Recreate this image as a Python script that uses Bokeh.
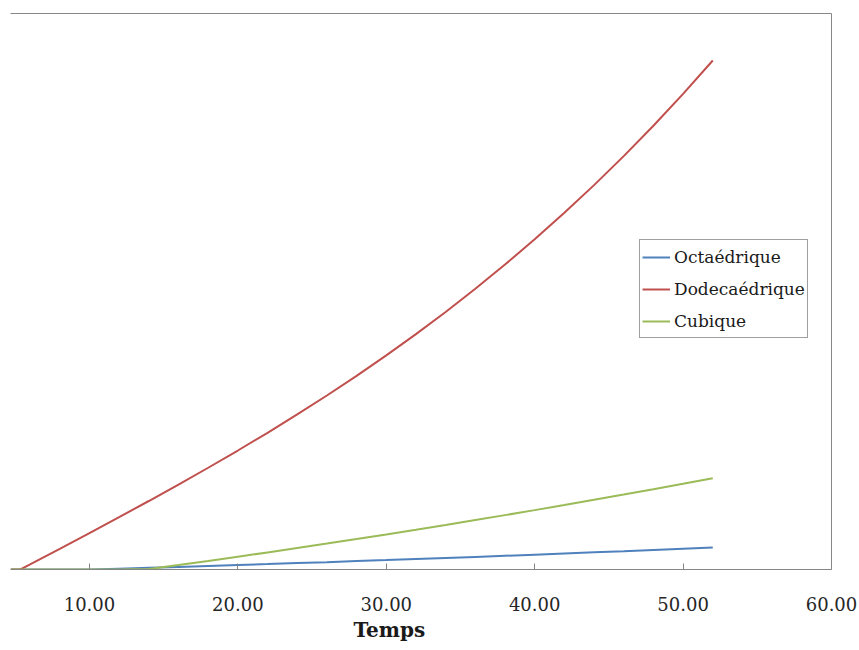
from bokeh.plotting import figure
from bokeh.models import (LinearAxis, FixedTicker, NumeralTickFormatter, Range1d, Title)
from bokeh.embed import file_html
from bokeh.resources import INLINE

# ---- data ----
temps = [4.7, 5.35, 6, 8, 10, 12, 14, 16, 18, 20, 22, 24, 26, 28, 30,
         32, 34, 36, 38, 40, 42, 44, 46, 48, 50, 52]
octaedrique = [0, 0, 0, 0, 0, 0.15, 0.31, 0.47, 0.63, 0.80, 0.97, 1.15, 1.32, 1.51, 1.69,
               1.88, 2.07, 2.27, 2.47, 2.67, 2.88, 3.09, 3.30, 3.52, 3.74, 3.97]
dodecaedrique = [0, 0, 0.91, 3.72, 6.55, 9.42, 12.32, 15.28, 18.30, 21.40, 24.59, 27.89, 31.30, 34.83, 38.51,
                 42.33, 46.32, 50.49, 54.84, 59.39, 64.15, 69.13, 74.35, 79.82, 85.55, 91.54]
cubique = [0, 0, 0, 0, 0, 0, 0.07, 0.80, 1.54, 2.30, 3.07, 3.86, 4.66, 5.48, 6.31,
           7.15, 8.01, 8.89, 9.78, 10.68, 11.60, 12.54, 13.49, 14.45, 15.43, 16.42]
series_names = ["Octaédrique", "Dodecaédrique", "Cubique"]
series_colors = ["#4F81BD", "#C0504D", "#9BBB59"]
x_ticks = [10, 20, 30, 40, 50, 60]
x_title = "Temps"

AXIS_GREY = "#868686"
FONT = "DejaVu Serif"

p = figure(width=859, height=650, output_backend="svg", toolbar_location=None,
           x_range=Range1d(4.68, 60.0), y_range=Range1d(0, 100),
           y_axis_location=None, x_axis_location=None,
           min_border_left=10, min_border_right=28, min_border_top=13, min_border_bottom=81)
p.outline_line_color = None
p.xgrid.visible = False
p.ygrid.visible = False
p.background_fill_color = "white"
p.border_fill_color = "white"

# bottom axis
xa = LinearAxis(ticker=FixedTicker(ticks=x_ticks),
                formatter=NumeralTickFormatter(format="0.00"))
xa.axis_line_color = AXIS_GREY
xa.major_tick_line_color = AXIS_GREY
xa.major_tick_in = 6
xa.major_tick_out = 0
xa.minor_tick_line_color = None
xa.major_label_standoff = 27
xa.major_label_text_font = FONT
xa.major_label_text_font_size = "18px"
xa.major_label_text_color = "#262626"
p.add_layout(xa, "below")

# top and right frame lines (axes without ticks)
for loc in ("above", "right"):
    ax = LinearAxis(ticker=FixedTicker(ticks=[]))
    ax.axis_line_color = AXIS_GREY
    ax.major_tick_in = 0
    ax.major_tick_out = 0
    ax.minor_tick_in = 0
    ax.minor_tick_out = 0
    ax.major_label_standoff = 0
    ax.major_label_text_font_size = "0px"
    ax.axis_label_standoff = 0
    p.add_layout(ax, loc)

p.add_layout(Title(text=x_title, align="left", offset=343, standoff=5,
                   text_font=FONT, text_font_size="20px", text_font_style="bold",
                   text_color="#1a1a1a"), "below")

for ys, name, col in zip([octaedrique, dodecaedrique, cubique], series_names, series_colors):
    p.line(temps, ys, line_color=col, line_width=2, legend_label=name)

lg = p.legend[0]
lg.location = (629, 231)
lg.border_line_color = "#3f3f3f"
lg.border_line_width = 1
lg.background_fill_color = "white"
lg.background_fill_alpha = 1
lg.padding = 2
lg.margin = 0
lg.spacing = 3
lg.label_height = 29
lg.glyph_width = 28
lg.glyph_height = 20
lg.label_standoff = 4
lg.label_text_font = FONT
lg.label_text_font_size = "17px"
lg.label_text_color = "#1a1a1a"

open("out.html", "w").write(file_html(p, INLINE))
